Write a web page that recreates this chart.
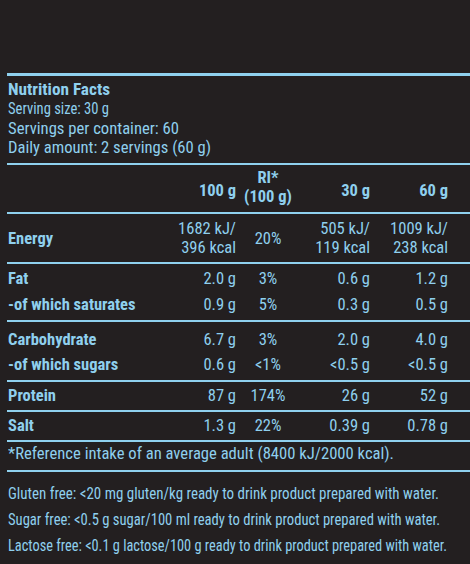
<!DOCTYPE html><html><head><meta charset="utf-8">
<script src="https://cdn.jsdelivr.net/npm/chart.js@4"></script>
<style>
body{margin:0;width:470px;height:564px;background:#231f20;color:#8fd0ee;font-family:"Liberation Sans Narrow","Roboto Condensed","Liberation Sans",sans-serif;font-size:16.5px;position:relative;overflow:hidden}
.t{position:absolute;white-space:nowrap;line-height:19px}
.b{font-weight:bold}
.l{position:absolute;left:7px;right:0;height:2px;background:#8fd0ee}
</style></head><body>
<script>
const headers=["100 g","RI*\n(100 g)","30 g","60 g"];
const nutrients=["Energy","Fat","-of which saturates","Carbohydrate","-of which sugars","Protein","Salt"];
const per100=["1682 kJ/\n396 kcal","2.0 g","0.9 g","6.7 g","0.6 g","87 g","1.3 g"];
const ri=["20%","3%","5%","3%","<1%","174%","22%"];
const per30=["505 kJ/\n119 kcal","0.6 g","0.3 g","2.0 g","<0.5 g","26 g","0.39 g"];
const per60=["1009 kJ/\n238 kcal","1.2 g","0.5 g","4.0 g","<0.5 g","52 g","0.78 g"];
const rowY=[238,278,304,339,364,395,425];
const lines=[[73,3],[163,2],[212,2],[262,2],[320,2],[380,2],[410,2],[440,2],[470,2]];
function esc(s){return s.replace(/&/g,'&amp;').replace(/</g,'&lt;');}
function add(txt,x,y,cls,align,fitW){
  const d=document.createElement('div');d.className='t '+(cls||'');
  d.innerHTML=txt.split('\n').map(esc).join('<br>');
  const n=txt.split('\n').length;
  d.style.top=(y-9.5*n)+'px';
  if(align==='r'){d.style.right=(470-x)+'px';d.style.textAlign='right';}
  else if(align==='c'){d.style.left=(x-60)+'px';d.style.width='120px';d.style.textAlign='center';}
  else d.style.left=x+'px';
  document.body.appendChild(d);
  if(fitW){const w=d.getBoundingClientRect().width;d.style.transformOrigin='0 0';d.style.transform='scaleX('+(fitW/w)+')';}
}
lines.forEach(([y,h])=>{const e=document.createElement('div');e.className='l';e.style.top=y+'px';e.style.height=h+'px';document.body.appendChild(e);});
add("Nutrition Facts",8,89,'b','',102);
add("Serving size: 30 g",8,108,'','',101);
add("Servings per container: 60",8,128,'','',171);
add("Daily amount: 2 servings (60 g)",8,147,'','',203);
add(headers[0],236,190,'b','r');
add(headers[1],268,187,'b','c');
add(headers[2],370,190,'b','r');
add(headers[3],448,190,'b','r');
nutrients.forEach((n,i)=>{
  add(n,8,rowY[i],'b');
  add(per100[i],236,rowY[i],'','r');
  add(ri[i],268,rowY[i],'','c');
  add(per30[i],370,rowY[i],'','r');
  add(per60[i],448,rowY[i],'','r');
});
add("*Reference intake of an average adult (8400 kJ/2000 kcal).",8,453,'','',386);
add("Gluten free: <20 mg gluten/kg ready to drink product prepared with water.",8,493,'','',431);
add("Sugar free: <0.5 g sugar/100 ml ready to drink product prepared with water.",8,519,'','',432);
add("Lactose free: <0.1 g lactose/100 g ready to drink product prepared with water.",8,545,'','',439);
</script>
</body></html>
